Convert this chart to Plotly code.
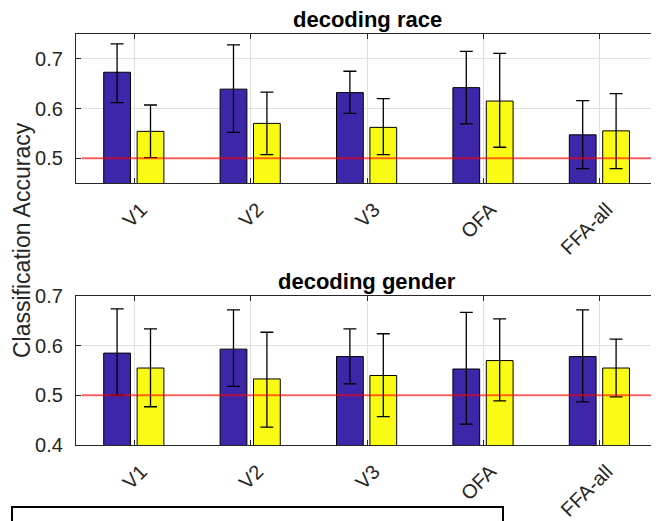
import plotly.graph_objects as go

regions = ["V1", "V2", "V3", "OFA", "FFA-all"]
positions = [1, 2, 3, 4, 5]

race_blue = [0.673, 0.639, 0.632, 0.642, 0.547]
race_blue_hi = [0.730, 0.728, 0.675, 0.715, 0.616]
race_blue_lo = [0.612, 0.552, 0.590, 0.569, 0.479]
race_yellow = [0.554, 0.570, 0.562, 0.615, 0.555]
race_yellow_hi = [0.607, 0.633, 0.620, 0.711, 0.630]
race_yellow_lo = [0.501, 0.507, 0.507, 0.522, 0.479]

gender_blue = [0.585, 0.593, 0.578, 0.553, 0.578]
gender_blue_hi = [0.674, 0.672, 0.634, 0.667, 0.672]
gender_blue_lo = [0.500, 0.518, 0.523, 0.442, 0.487]
gender_yellow = [0.555, 0.533, 0.540, 0.570, 0.555]
gender_yellow_hi = [0.634, 0.627, 0.624, 0.654, 0.613]
gender_yellow_lo = [0.477, 0.436, 0.457, 0.489, 0.497]

chance = 0.5
race_yticks = [0.5, 0.6, 0.7]
gender_yticks = [0.4, 0.5, 0.6, 0.7]

BLUE = "#3E26A8"
YELLOW = "#F9FB15"
AX = "#262626"
GRID = "#e0e0e0"
FONT = "Liberation Sans, Arial, sans-serif"

# page body margin offsets the figure by 8 px
OFF = 8
W, H = 659 - OFF, 521 - OFF


def px(x):
    return (x - OFF) / W


def py(y):
    return 1 - (y - OFF) / H


def err(vals, hi, lo):
    return dict(type="data", symmetric=False,
                array=[h - v for h, v in zip(hi, vals)],
                arrayminus=[v - l for v, l in zip(vals, lo)],
                color="black", thickness=1.3, width=6.5)


fig = go.Figure()

sets = [
    ("x", "y", race_blue, race_blue_hi, race_blue_lo, race_yellow, race_yellow_hi, race_yellow_lo),
    ("x2", "y2", gender_blue, gender_blue_hi, gender_blue_lo, gender_yellow, gender_yellow_hi, gender_yellow_lo),
]
for xa, ya, b, bh, bl, yv, yh, yl in sets:
    fig.add_trace(go.Bar(x=positions, y=b, width=0.23, offset=-0.262, marker=dict(color=BLUE, line=dict(color="black", width=1)),
                         error_y=err(b, bh, bl), xaxis=xa, yaxis=ya, showlegend=False))
    fig.add_trace(go.Bar(x=positions, y=yv, width=0.23, offset=0.025, marker=dict(color=YELLOW, line=dict(color="black", width=1)),
                         error_y=err(yv, yh, yl), xaxis=xa, yaxis=ya, showlegend=False))
    fig.add_trace(go.Scatter(x=[0.55, 5.45], y=[chance, chance], mode="lines",
                             line=dict(color="rgba(255,0,0,0.6)", width=2), xaxis=xa, yaxis=ya,
                             showlegend=False, hoverinfo="skip"))

xdom = [px(76), min(1.0, px(658))]
top_dom = [py(183), py(34)]
bot_dom = [py(445), py(296)]

xcommon = dict(range=[0.5, 5.5], tickvals=positions, ticktext=regions, tickangle=-45,
               showgrid=True, gridcolor=GRID, gridwidth=1, showline=True, linecolor=AX, linewidth=1.2,
               mirror="ticks", ticks="inside", ticklen=5, tickcolor=AX, zeroline=False, automargin=False,
               tickfont=dict(family=FONT, size=20, color=AX), domain=xdom, ticklabelstandoff=6,
               ticklabelshift=7)
ycommon = dict(showgrid=True, gridcolor=GRID, gridwidth=1, showline=True, linecolor=AX, linewidth=1.2,
               mirror="ticks", ticks="inside", ticklen=5, tickcolor=AX, zeroline=False, automargin=False,
               tickfont=dict(family=FONT, size=20, color=AX), ticklabelstandoff=8)

fig.update_layout(
    width=W, height=H, margin=dict(l=0, r=0, t=0, b=0, pad=0, autoexpand=False),
    paper_bgcolor="white", plot_bgcolor="white", barmode="overlay",
    xaxis=dict(**xcommon, anchor="y"),
    yaxis=dict(**ycommon, domain=top_dom, range=[0.45, 0.75], tickvals=race_yticks,
               ticktext=[f"{v:.1f}" for v in race_yticks], anchor="x"),
    xaxis2=dict(**xcommon, anchor="y2"),
    yaxis2=dict(**ycommon, domain=bot_dom, range=[0.4, 0.7], tickvals=gender_yticks,
                ticktext=[f"{v:.1f}" for v in gender_yticks], anchor="x2"),
    annotations=[
        dict(text="<b>decoding race</b>", x=(xdom[0] + xdom[1]) / 2, y=top_dom[1], xref="paper", yref="paper",
             xanchor="center", yanchor="bottom", yshift=1, borderpad=0, showarrow=False,
             font=dict(family=FONT, size=22, color="black")),
        dict(text="<b>decoding gender</b>", x=(xdom[0] + xdom[1]) / 2, y=bot_dom[1], xref="paper", yref="paper",
             xanchor="center", yanchor="bottom", yshift=1, borderpad=0, showarrow=False,
             font=dict(family=FONT, size=22, color="black")),
        dict(text="Classification Accuracy", x=px(22), y=py(240), xref="paper", yref="paper",
             xanchor="center", yanchor="middle", textangle=-90, showarrow=False,
             font=dict(family=FONT, size=23, color=AX)),
    ],
    shapes=[
        dict(type="rect", xref="paper", yref="paper", x0=px(12), x1=px(503), y0=-0.05, y1=py(507),
             line=dict(color="black", width=2), fillcolor="rgba(0,0,0,0)"),
    ],
)

fig.write_html("out.html")
